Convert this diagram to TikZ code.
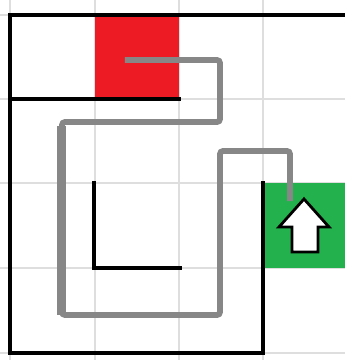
\documentclass[tikz,border=0pt]{standalone}
\definecolor{gridgray}{RGB}{222,222,222}
\definecolor{pathgray}{RGB}{135,135,135}
\definecolor{mazered}{RGB}{237,28,36}
\definecolor{mazegreen}{RGB}{34,177,76}
\tikzset{
  gridline/.style={gridgray, line width=1.4pt},
  wall/.style={black, line width=3.2pt, line cap=rect},
  route/.style={pathgray, line width=5.8pt, rounded corners=3pt},
  routethick/.style={pathgray, line width=9pt},
  arrowshape/.style={fill=white, draw=black, line width=2.8pt, line join=miter}
}
\begin{document}
\begin{tikzpicture}[x=1pt, y=-1pt]
\useasboundingbox (0,0) rectangle (345,360);
% grid
\foreach \gx in {10,95,179,263} \draw[gridline] (\gx,0) -- (\gx,360);
\foreach \gy in {15,99,183,268,353} \draw[gridline] (0,\gy) -- (345,\gy);
% coloured cells
\fill[mazered] (95,15) rectangle (179,99);
\fill[mazegreen] (263,183) rectangle (345,268);
% walls
\draw[wall] (345,15) -- (10,15) -- (10,353) -- (263,353) -- (263,183);
\draw[wall] (10,99) -- (179,99);
\draw[wall] (94,183) -- (94,268) -- (180,268);
% route
\coordinate (s) at (125,60);
\coordinate (e) at (290,201);
\draw[routethick] (62,126) -- (62,315);
\draw[route] (s) -- (220,60) -- (220,122) -- (62,122) -- (62,315) -- (220,315) -- (220,151) -- (290,151) -- (e);
% arrow
\draw[arrowshape] (304,199) -- (329,227) -- (318,227) -- (318,252) -- (292,252) -- (292,227) -- (279,227) -- cycle;
\end{tikzpicture}
\end{document}
